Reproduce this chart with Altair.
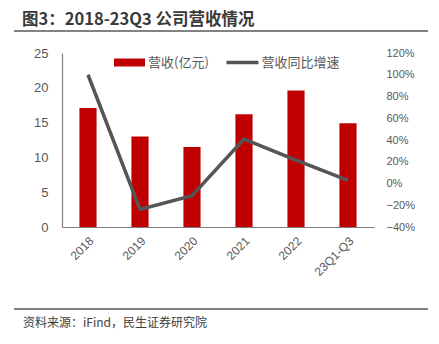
import altair as alt
import pandas as pd

categories = ["2018", "2019", "2020", "2021", "2022", "23Q1-Q3"]
revenue = [17.1, 13.0, 11.5, 16.2, 19.6, 14.9]          # 营收(亿元)
growth_pct = [100.0, -23.8, -11.3, 40.9, 21.4, 2.8]     # 营收同比增速 (%)
left_ticks = [0, 5, 10, 15, 20, 25]
right_ticks = [-0.4, -0.2, 0, 0.2, 0.4, 0.6, 0.8, 1.0, 1.2]

title_text = "图3：2018-23Q3 公司营收情况"
source_text = "资料来源：iFind，民生证券研究院"
legend_labels = ["营收(亿元)", "营收同比增速"]

df = pd.DataFrame({"cat": categories, "rev": revenue, "g": growth_pct})

RED = "#C00000"
GRAY = "#555555"
TXT = "#595959"
NUMFONT = "Liberation Sans"
CJK = "Noto Sans CJK SC"

x_enc = alt.X(
    "cat:N", sort=categories, title=None,
    scale=alt.Scale(paddingInner=0.67, paddingOuter=0.335),
    axis=alt.Axis(labelAngle=-45, ticks=False, labelPadding=8, labelFontSize=12,
                  labelColor=TXT, labelFont=NUMFONT, domainColor="#808080", domainWidth=1.2,
                  grid=False),
)

bars = alt.Chart(df).mark_bar(color=RED).encode(
    x=x_enc,
    y=alt.Y("rev:Q", title=None, scale=alt.Scale(domain=[0, 25], nice=False),
            axis=alt.Axis(orient="left", values=left_ticks, ticks=False, grid=False,
                          labelPadding=14, labelFontSize=13, labelColor=TXT, labelFont=NUMFONT,
                          domainColor="#808080", domainWidth=1.2)),
)

line = alt.Chart(df).transform_calculate(gf="datum.g / 100").mark_line(
    color=GRAY, strokeWidth=3.5).encode(
    x=alt.X("cat:N", sort=categories),
    y=alt.Y("gf:Q", title=None, scale=alt.Scale(domain=[-0.4, 1.2], nice=False),
            axis=alt.Axis(orient="right", values=right_ticks, format=".0%", ticks=False,
                          domain=False, grid=False, labelPadding=12, labelFontSize=11,
                          labelColor=TXT, labelFont=NUMFONT, labelAlign="left")),
)

one = lambda s: pd.DataFrame({"t": [s]})

title = alt.Chart(one(title_text)).mark_text(
    align="left", baseline="middle", font=CJK, fontSize=16.5, fontWeight="bold", color="#3a3a3a"
).encode(text="t:N", x=alt.value(-40), y=alt.value(-33))

source = alt.Chart(one(source_text)).mark_text(
    align="left", baseline="middle", font=CJK, fontSize=12, color="#404040"
).encode(text="t:N", x=alt.value(-39), y=alt.value(270))

top_rule = alt.Chart(one("r")).mark_rule(color="#595959", strokeWidth=1.6).encode(
    x=alt.value(-48), x2=alt.value(366), y=alt.value(-22))
bottom_rule = alt.Chart(one("r")).mark_rule(color="#595959", strokeWidth=1.6).encode(
    x=alt.value(-48), x2=alt.value(366), y=alt.value(256))

leg_rect = alt.Chart(one("r")).mark_rect(color=RED).encode(
    x=alt.value(52), x2=alt.value(83), y=alt.value(5.5), y2=alt.value(13.5))
leg_text1 = alt.Chart(one(legend_labels[0])).mark_text(
    align="left", baseline="middle", font=CJK, fontSize=13, color=TXT
).encode(text="t:N", x=alt.value(86), y=alt.value(9.5))
leg_line = alt.Chart(one("r")).mark_rule(color=GRAY, strokeWidth=3.5).encode(
    x=alt.value(164.5), x2=alt.value(196.5), y=alt.value(9.5))
leg_text2 = alt.Chart(one(legend_labels[1])).mark_text(
    align="left", baseline="middle", font=CJK, fontSize=13, color=TXT
).encode(text="t:N", x=alt.value(199.5), y=alt.value(9.5))

chart = alt.layer(
    bars, line, title, source, top_rule, bottom_rule, leg_rect, leg_text1, leg_line, leg_text2
).resolve_scale(y="independent").properties(
    width=312, height=174,
    autosize=alt.AutoSizeParams(type="none"),
    padding={"left": 62, "top": 53, "right": 65, "bottom": 117},
    background="white",
).configure_view(stroke=None)

chart.save("out.html", embed_options={"renderer": "svg", "actions": False})
